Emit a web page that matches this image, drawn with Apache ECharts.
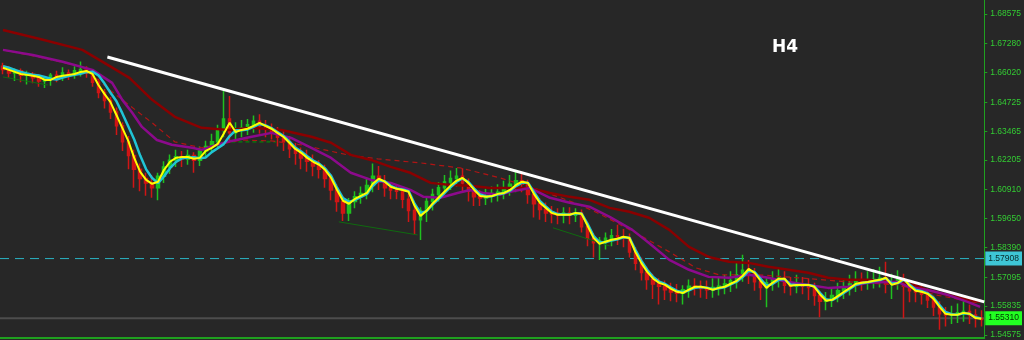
<!DOCTYPE html>
<html><head><meta charset="utf-8">
<script src="https://cdn.jsdelivr.net/npm/echarts@6/dist/echarts.min.js"></script>
<style>html,body{margin:0;padding:0;background:#272727;overflow:hidden}#c{width:1024px;height:340px;}</style>
</head><body><div id="c"></div>
<script>
// ---- Data (prices in pips: 16630 = 1.6630) ----
const opensPips = [16630,16615,16600,16610,16590,16595,16580,16565,16575,16590,16585,16600,16595,16610,16615,16600,16560,16515,16480,16430,16370,16300,16240,16180,16140,16120,16100,16150,16190,16220,16235,16225,16240,16220,16260,16280,16300,16350,16400,16340,16355,16360,16375,16390,16370,16355,16340,16320,16300,16270,16250,16230,16215,16195,16180,16140,16090,16040,15990,16040,16060,16075,16110,16150,16125,16100,16090,16085,16050,16000,15960,16000,16040,16070,16100,16125,16140,16150,16120,16085,16060,16055,16065,16075,16080,16095,16115,16130,16115,16070,16030,16005,15990,15985,15980,15990,15980,15990,15930,15880,15860,15870,15880,15890,15885,15880,15820,15770,15730,15700,15680,15670,15655,15645,15640,15655,15670,15665,15660,15655,15665,15670,15680,15695,15720,15740,15725,15690,15665,15685,15700,15705,15675,15670,15680,15670,15665,15630,15605,15615,15630,15650,15665,15680,15690,15685,15695,15700,15705,15680,15690,15700,15670,15650,15645,15635,15610,15580,15550,15545,15550,15555,15560,15545,15530];
const closesPips = [16615,16600,16610,16590,16595,16580,16565,16575,16590,16585,16600,16595,16610,16615,16600,16560,16515,16480,16430,16370,16300,16240,16180,16140,16120,16100,16150,16190,16220,16235,16225,16240,16220,16260,16280,16300,16350,16400,16340,16355,16360,16375,16390,16370,16355,16340,16320,16300,16270,16250,16230,16215,16195,16180,16140,16090,16040,15990,16040,16060,16075,16110,16150,16125,16100,16090,16085,16050,16000,15960,16000,16040,16070,16100,16125,16140,16150,16120,16085,16060,16055,16065,16075,16080,16095,16115,16130,16115,16070,16030,16005,15990,15985,15980,15990,15980,15990,15930,15880,15860,15870,15880,15890,15885,15880,15820,15770,15730,15700,15680,15670,15655,15645,15640,15655,15670,15665,15660,15655,15665,15670,15680,15695,15720,15740,15725,15690,15665,15685,15700,15705,15675,15670,15680,15670,15665,15630,15605,15615,15630,15650,15665,15680,15690,15685,15695,15700,15705,15680,15690,15700,15670,15650,15645,15635,15610,15580,15550,15545,15550,15555,15560,15545,15530,15525];
const lowsPips = [16595,16580,16565,16560,16550,16555,16540,16535,16545,16560,16565,16570,16575,16585,16580,16540,16490,16445,16400,16330,16260,16180,16100,16085,16065,16056,16045,16120,16160,16190,16190,16200,16165,16195,16235,16250,16275,16320,16300,16310,16320,16330,16340,16335,16320,16310,16280,16260,16230,16200,16180,16170,16150,16140,16100,16045,15995,15955,15955,16010,16030,16050,16080,16090,16060,16050,16050,16010,15950,15895,15872,15950,16000,16040,16070,16090,16105,16085,16040,16020,16020,16025,16035,16040,16050,16065,16080,16080,16030,15970,15960,15950,15945,15940,15945,15940,15950,15905,15845,15795,15785,15830,15845,15850,15840,15795,15740,15695,15655,15615,15590,15610,15605,15600,15590,15620,15630,15620,15615,15620,15630,15635,15645,15660,15690,15680,15650,15610,15578,15650,15665,15640,15630,15640,15635,15610,15585,15535,15565,15580,15600,15615,15630,15645,15650,15655,15660,15665,15640,15615,15655,15530,15600,15600,15590,15575,15540,15480,15495,15505,15510,15515,15505,15490,15495];
const highsPips = [16645,16630,16620,16620,16610,16605,16595,16585,16600,16610,16625,16615,16630,16650,16630,16610,16575,16530,16495,16450,16385,16325,16265,16205,16165,16155,16165,16215,16245,16265,16260,16265,16255,16280,16305,16335,16375,16527,16500,16385,16395,16400,16415,16420,16395,16380,16365,16350,16325,16295,16275,16265,16245,16220,16200,16160,16115,16065,16055,16085,16105,16145,16205,16195,16155,16125,16115,16105,16075,16025,16015,16055,16095,16125,16155,16175,16186,16185,16140,16105,16090,16095,16105,16115,16130,16155,16178,16170,16135,16090,16055,16035,16020,16010,16015,16015,16010,16005,15950,15900,15885,15905,15920,15938,15920,15900,15840,15795,15755,15725,15705,15695,15685,15680,15675,15700,15705,15695,15695,15705,15710,15720,15735,15775,15807,15785,15750,15715,15705,15735,15745,15735,15710,15720,15710,15705,15685,15650,15645,15665,15685,15705,15720,15735,15730,15735,15745,15755,15777,15725,15740,15725,15695,15685,15675,15660,15630,15605,15580,15585,15595,15605,15590,15570,15565];
// fast MA (yellow), one value per bar
const yellowPips = [16623,16614,16605,16596,16592,16588,16583,16570,16570,16583,16588,16592,16596,16605,16609,16596,16548,16509,16474,16418,16361,16304,16230,16169,16134,16117,16126,16178,16213,16230,16234,16234,16226,16230,16261,16274,16291,16335,16383,16343,16352,16357,16370,16383,16370,16357,16339,16322,16296,16269,16252,16230,16213,16200,16178,16143,16090,16043,16030,16051,16064,16077,16117,16139,16126,16104,16095,16090,16082,16021,15977,15999,16030,16056,16082,16108,16130,16143,16121,16090,16064,16060,16064,16073,16077,16090,16112,16126,16121,16073,16034,16012,15990,15982,15982,15982,15990,15986,15934,15881,15855,15864,15873,15877,15886,15881,15820,15772,15733,15703,15685,15676,15659,15646,15641,15655,15668,15668,15663,15655,15663,15668,15681,15694,15716,15746,15729,15694,15663,15685,15703,15703,15672,15676,15676,15676,15668,15633,15607,15611,15628,15646,15663,15681,15685,15689,15694,15698,15707,15676,15685,15703,15672,15650,15646,15637,15615,15580,15550,15546,15546,15554,15550,15532,15528];
// second MA (cyan), one value per bar
const cyanPips = [16630,16623,16614,16605,16598,16593,16589,16583,16575,16572,16580,16587,16592,16597,16604,16606,16590,16555,16515,16478,16425,16368,16310,16240,16180,16142,16120,16150,16185,16212,16228,16232,16233,16228,16232,16255,16272,16290,16325,16350,16350,16354,16365,16378,16372,16360,16343,16326,16302,16275,16258,16237,16218,16205,16184,16152,16100,16055,16038,16047,16060,16072,16108,16132,16128,16108,16097,16092,16085,16030,15990,15998,16025,16050,16076,16102,16125,16140,16125,16096,16070,16062,16063,16071,16076,16087,16107,16122,16122,16082,16042,16018,15995,15985,15983,15983,15988,15987,15942,15890,15862,15862,15870,15875,15884,15882,15830,15782,15742,15710,15690,15680,15664,15650,15644,15652,15664,15667,15664,15657,15661,15666,15678,15690,15710,15738,15732,15702,15672,15680,15698,15702,15678,15676,15676,15676,15670,15640,15612,15610,15624,15642,15659,15677,15684,15688,15693,15697,15705,15682,15684,15699,15677,15655,15648,15640,15620,15588,15558,15548,15546,15552,15550,15535,15530];
// slower MAs sampled at bar positions: [barIndex, pips]
const purplePts = [[0,16701],[5,16679],[10,16649],[15,16614],[18.3,16557],[20,16483],[21.7,16426],[23.3,16365],[25.8,16308],[28.3,16287],[31.7,16274],[33.3,16265],[35.8,16287],[38.3,16304],[41.7,16322],[45,16339],[48.3,16317],[51.7,16274],[55,16230],[58.3,16165],[61.7,16134],[65,16121],[68.3,16090],[70.5,16060],[73.3,16056],[76.2,16077],[78.3,16090],[80.5,16077],[83.3,16069],[85,16082],[88.3,16099],[91.7,16056],[95,16034],[98.3,16017],[101.7,15973],[105.5,15916],[108.3,15859],[111.7,15785],[115,15742],[118.3,15711],[121.7,15707],[125,15720],[128.3,15707],[131.7,15689],[135,15676],[138.3,15663],[141.7,15668],[145,15685],[148.3,15689],[150,15689],[151.7,15668],[155,15654],[158.3,15633],[161.7,15602],[163.8,15580]];
const darkRedPts = [[0,16788],[6.7,16745],[13.3,16701],[16.7,16649],[21.2,16579],[25,16483],[28.8,16409],[33.3,16361],[37.8,16352],[41.7,16361],[46.7,16352],[51.7,16322],[55,16296],[58.3,16243],[61.7,16221],[65,16191],[68.3,16165],[71.7,16121],[75,16112],[78.3,16108],[81.7,16099],[88.3,16099],[91.7,16077],[95,16060],[98.3,16047],[101.7,16012],[105,15995],[108.3,15969],[111.7,15916],[115,15842],[118.3,15798],[121.7,15777],[125,15772],[128.3,15755],[131.7,15742],[135,15729],[138.3,15707],[141.7,15698],[145,15698],[148.3,15689],[151.7,15685],[155,15654],[158.3,15633],[161.7,15611],[163.8,15602]];
const dashedRedPts = [[0,16701],[6.7,16666],[13.3,16627],[18.3,16518],[22.2,16439],[25,16383],[28.8,16300],[33.3,16274],[40,16308],[45,16304],[50,16287],[57.8,16243],[62.8,16226],[70,16208],[76.7,16186],[83.3,16143],[90,16090],[96.7,16025],[100,15986],[106.7,15894],[111.7,15820],[116.2,15750],[120,15720],[126.7,15720],[133.3,15707],[141.7,15689],[150,15676],[156.2,15633],[163.3,15598]];
// drawn objects
const trendLinePts = [[17.5,16670],[164.5,15602]];
const greenLine1 = [[0,16583],[7.5,16548]];
const greenLine2 = [[56.3,15951],[69.5,15894]];
const greenLine3 = [[92.2,15925],[101.7,15846]];
const greenDashPts = [[38.3,16300],[45.8,16300]];
const tickValues = [1.68575,1.67280,1.66020,1.64725,1.63465,1.62205,1.60910,1.59650,1.58390,1.57095,1.55835,1.54575];
const levelCyan = 1.57908;
const levelBid = 1.55310;
const yMin = 1.54444, yMax = 1.69186;
const timeframe = 'H4';

// ---- Build ----
const P = v => v / 10000;
const N = closesPips.length;
const categories = closesPips.map((_, i) => i);
const candles = closesPips.map((c, i) => [P(opensPips[i]), P(c), P(lowsPips[i]), P(highsPips[i])]);
const pts = a => a.map(p => [p[0], P(p[1])]);
const GREEN_AXIS = '#1fa01f';

const chart = echarts.init(document.getElementById('c'), null, {renderer: 'canvas'});
function vLine(name, data, color, width, type, z) {
  return {name, type: 'line', xAxisIndex: 1, yAxisIndex: 0, data, showSymbol: false, symbol: 'none',
    lineStyle: {color, width, type: type || 'solid'}, z: z || 3, silent: true, animation: false};
}
function levelLine(level, color, width, type, boxColor, textColor) {
  const s = vLine('level' + level, [[-0.5, level], [N - 0.5, level]], color, width, type, 1);
  s.endLabel = {show: true, distance: 1, formatter: level.toFixed(5), color: textColor,
    backgroundColor: boxColor, padding: [3, 3, 2, 3], fontSize: 8.5, fontFamily: 'Liberation Sans'};
  return s;
}
chart.setOption({
  backgroundColor: '#272727',
  animation: false,
  grid: {left: 0, right: 37, top: 0, bottom: 2, containLabel: false},
  xAxis: [
    {type: 'category', data: categories, boundaryGap: true,
      axisLine: {show: true, onZero: false, lineStyle: {color: GREEN_AXIS, width: 2}}, axisTick: {show: false}, axisLabel: {show: false}, splitLine: {show: false}},
    {type: 'value', min: -0.5, max: N - 0.5, show: false, axisLine: {onZero: false}}
  ],
  yAxis: [{
    type: 'value', position: 'right', min: yMin, max: yMax, scale: true,
    axisLine: {show: true, onZero: false, lineStyle: {color: GREEN_AXIS, width: 1}},
    axisTick: {show: true, length: 3, inside: false, customValues: tickValues, lineStyle: {color: GREEN_AXIS}},
    axisLabel: {show: true, customValues: tickValues, margin: 6, color: '#33cc33', fontSize: 8.5,
      fontFamily: 'Liberation Sans', formatter: v => v.toFixed(5)},
    splitLine: {show: false}
  }],
  series: [
    levelLine(levelCyan, '#2ab4c4', 1, [9, 6], '#3ec6d6', '#0a2a2a'),
    levelLine(levelBid, '#4d4d4d', 2, 'solid', '#22ff22', '#003300'),
    {type: 'candlestick', xAxisIndex: 0, yAxisIndex: 0, data: candles, barWidth: 3, z: 2,
      itemStyle: {color: '#1fc01f', color0: '#d01515', borderColor: '#1fc01f', borderColor0: '#d01515',
        borderColorDoji: '#1fc01f', borderWidth: 1.5}},
    vLine('greenLine1', pts(greenLine1), '#0f6a0f', 1),
    vLine('greenLine2', pts(greenLine2), '#0f6a0f', 1),
    vLine('greenLine3', pts(greenLine3), '#0f6a0f', 1),
    vLine('greenDash', pts(greenDashPts), '#0f6a0f', 2, [4, 3]),
    vLine('maDashed', pts(dashedRedPts), '#b01515', 1.2, [5, 4], 3),
    vLine('maSlow', pts(darkRedPts), '#8a0000', 2.5, 'solid', 4),
    vLine('maMid', pts(purplePts), '#8c0a8c', 2.5, 'solid', 5),
    {type: 'line', xAxisIndex: 0, yAxisIndex: 0, data: cyanPips.map(P), showSymbol: false, symbol: 'none',
      lineStyle: {color: '#20c4d6', width: 2.5}, z: 6, silent: true},
    {type: 'line', xAxisIndex: 0, yAxisIndex: 0, data: yellowPips.map(P), showSymbol: false, symbol: 'none',
      lineStyle: {color: '#ffff00', width: 2}, z: 7, silent: true},
    vLine('trend', pts(trendLinePts), '#ffffff', 3, 'solid', 8)
  ],
  graphic: [{type: 'text', left: 772, top: 39, z: 20,
    style: {text: timeframe, fill: '#ffffff', font: 'bold 17px "DejaVu Sans"'}}]
});
</script></body></html>
